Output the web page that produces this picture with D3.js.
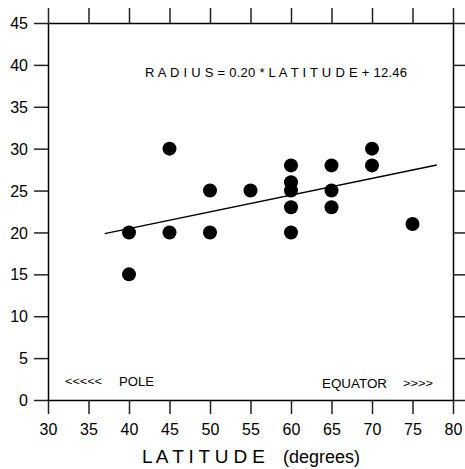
<!DOCTYPE html>
<html><head><meta charset="utf-8">
<script src="https://cdn.jsdelivr.net/npm/d3@7"></script>
<style>body{margin:0;background:#fff}svg{display:block}text{font-family:"Liberation Sans",Arial,sans-serif;fill:#000}</style>
</head><body>
<script>
const latitude = [40,40,45,45,50,50,55,60,60,60,60,60,65,65,65,70,70,75];
const radius   = [20,15,30,20,25,20,25,28,26,25,23,20,28,25,23,30,28,21];
const xTicks = [30,35,40,45,50,55,60,65,70,75,80];
const yTicks = [0,5,10,15,20,25,30,35,40,45];
const slope = 0.20, intercept = 12.46;
const fitRange = [37,78];
const equation = "R A D I U S = 0.20 * L A T I T U D E + 12.46";

const W=465,H=469;
const svg=d3.select("body").append("svg").attr("width",W).attr("height",H);
const x=d3.scaleLinear().domain([30,80]).range([48,453]);
const y=d3.scaleLinear().domain([0,45]).range([400,23]);
const FF="Liberation Sans, Arial, sans-serif";

function styleAxis(g){g.select(".domain").attr("stroke","#000").attr("stroke-width",1.5);
 g.selectAll(".tick line").attr("stroke","#222").attr("stroke-width",1.5);}

svg.append("g").attr("transform","translate(0,400)")
 .call(d3.axisBottom(x).tickValues(xTicks).tickSize(14).tickSizeOuter(0).tickPadding(10))
 .call(styleAxis).call(g=>g.selectAll("text").attr("font-size",16).attr("font-family",FF));
svg.append("g").attr("transform","translate(0,23)")
 .call(d3.axisTop(x).tickValues(xTicks).tickSize(15).tickSizeOuter(0).tickFormat(""))
 .call(styleAxis);
svg.append("g").attr("transform","translate(48,0)")
 .call(d3.axisLeft(y).tickValues(yTicks).tickSize(14).tickSizeOuter(0).tickPadding(6))
 .call(styleAxis).call(g=>g.selectAll("text").attr("font-size",16).attr("dy","0.35em").attr("font-family",FF));
svg.append("g").attr("transform","translate(453,0)")
 .call(d3.axisRight(y).tickValues(yTicks).tickSize(15).tickSizeOuter(0).tickFormat(""))
 .call(styleAxis);

svg.append("line").attr("x1",x(fitRange[0])).attr("y1",y(slope*fitRange[0]+intercept))
 .attr("x2",x(fitRange[1])).attr("y2",y(slope*fitRange[1]+intercept))
 .attr("stroke","#000").attr("stroke-width",1.5);

svg.append("g").selectAll("circle").data(latitude.map((d,i)=>[d,radius[i]])).join("circle")
 .attr("cx",d=>x(d[0])).attr("cy",d=>y(d[1])).attr("r",7).attr("fill","#000");

svg.append("text").attr("x",145).attr("y",77).attr("font-size",13)
 .attr("textLength",262).attr("lengthAdjust","spacing").text(equation);

svg.append("text").attr("x",65).attr("y",385).attr("font-size",11).attr("textLength",37).attr("lengthAdjust","spacingAndGlyphs").text("<<<<<");
svg.append("text").attr("x",119).attr("y",386).attr("font-size",12).attr("textLength",35).attr("lengthAdjust","spacingAndGlyphs").text("POLE");
svg.append("text").attr("x",322).attr("y",388).attr("font-size",12).attr("textLength",65).attr("lengthAdjust","spacingAndGlyphs").text("EQUATOR");
svg.append("text").attr("x",403).attr("y",387).attr("font-size",11).attr("textLength",30).attr("lengthAdjust","spacingAndGlyphs").text(">>>>");

svg.append("text").attr("x",142).attr("y",463).attr("font-size",19)
 .attr("textLength",123).attr("lengthAdjust","spacing").text("L A T I T U D E");
svg.append("text").attr("x",283).attr("y",463).attr("font-size",18).attr("textLength",77).attr("lengthAdjust","spacingAndGlyphs").text("(degrees)");
</script>
</body></html>
